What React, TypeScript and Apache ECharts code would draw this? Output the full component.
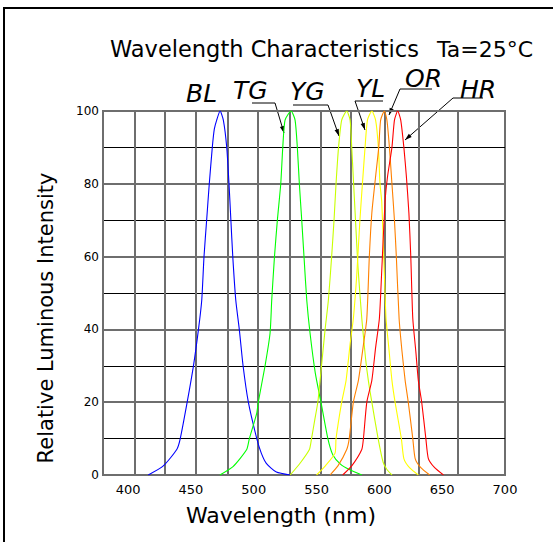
import React, { useEffect, useRef } from 'react';
import * as echarts from 'echarts';

// ---------- data ----------
const xTickLabels = [400, 450, 500, 550, 600, 650, 700];
const xGridLines = [405, 429, 454, 479, 503, 529, 553, 577, 604.5, 631.5, 662];
const yTickLabels = [0, 20, 40, 60, 80, 100];

const seriesNames = ['BL', 'TG', 'YG', 'YL', 'OR', 'HR'];
const seriesColors = ['#0000ff', '#00ff00', '#c8ff00', '#ffff00', '#ff8000', '#ff0000'];

const blData = [
  [416, 0], [428, 2.5], [438.7, 7], [441.5, 10], [447, 20], [452, 30], [456, 40], [458.6, 48],
  [460.4, 60], [462.5, 70], [464.6, 80], [467, 90], [468.6, 95], [470.5, 97.5], [473.2, 100],
  [475.8, 97.5], [478.5, 90], [480.3, 80], [481.8, 70], [483.3, 60], [485.7, 48], [488.5, 40],
  [491.5, 30], [495.7, 20], [502.4, 10], [506, 6], [510, 3.2], [518, 0.8], [529, 0],
];
const tgData = [
  [473, 0], [483.5, 2.3], [494.4, 7], [496.5, 10], [502.4, 17], [503.6, 20], [509, 30], [513, 39],
  [514.3, 48], [516.5, 60], [518.8, 70], [521.5, 80], [523.1, 90], [524.9, 97.5], [529.7, 100],
  [532.9, 97.5], [534.7, 90], [536.3, 80], [538.2, 70], [540, 60], [542.2, 48], [544.8, 39],
  [549, 28], [553.5, 20], [559, 10], [563, 5.5], [569, 3], [576, 1.5], [586, 0],
];
const ygData = [
  [529, 0], [537, 3.3], [544.3, 7], [546, 10], [548.5, 15], [551, 20], [552.8, 26], [556.8, 40],
  [559.4, 48], [562, 60], [563.9, 70], [565.5, 80], [567.5, 90], [570, 97.5], [574, 100],
  [576.7, 97.5], [578, 90], [579.5, 80], [581, 70], [583, 57], [586, 43], [589, 32], [591.2, 26],
  [594, 20], [599, 10], [603, 3.5], [606, 1.5], [610, 0],
];
const ylData = [
  [550, 0], [557, 2.5], [564.7, 6], [565.5, 10], [570, 20], [573.5, 26], [576.7, 36], [579.3, 43],
  [582, 55], [584.5, 70], [586.5, 80], [588.6, 90], [590.5, 97.5], [594, 100],
  [597, 97.5], [599.2, 90], [600.5, 80], [601.9, 75], [603.5, 60], [605.3, 43], [607.5, 35],
  [610, 26], [612.5, 20], [617.5, 10], [619.5, 4.5], [624, 2], [631, 0],
];
const orData = [
  [560.7, 0], [567, 2.5], [574, 7], [576, 10], [579.3, 20], [583.3, 26], [587, 35], [590, 43],
  [592, 60], [594, 72], [597, 82], [599.5, 90], [601, 97.5], [604, 100],
  [606, 97.5], [608, 90], [610, 80], [612, 70], [613.5, 60], [615.7, 43], [618, 34],
  [620.5, 26], [623, 20], [626.6, 10], [628.5, 4.5], [633, 2], [640, 0],
];
const hrData = [
  [570.8, 0], [578, 2.5], [586, 7], [587.3, 10], [590, 20], [594, 26], [597, 35], [600, 43],
  [602, 57], [604.5, 75], [606.5, 82], [610, 90], [612, 97.5], [614.6, 100],
  [617, 97.5], [619.5, 90], [621.5, 82], [623.5, 72], [625, 60], [626.6, 43], [629, 34],
  [631, 26], [633.7, 20], [637, 10], [639, 4.5], [644, 2], [651, 0],
];
const seriesData = [blData, tgData, ygData, ylData, orData, hrData];

// ---------- annotation layout (pixels) ----------
const labelPos: Record<string, [number, number]> = {
  BL: [186, 93], TG: [233, 90], YG: [290, 91.5], YL: [356, 88.5], OR: [405, 78.5], HR: [460, 89.5],
};
const leaders: number[][][] = [
  [[252, 103], [275, 103], [284, 133]],
  [[293, 105], [328, 105], [339, 136]],
  [[383, 101], [355, 101], [365, 130]],
  [[432, 89], [400, 89], [389, 115]],
  [[483, 98], [453, 98], [405, 140]],
];

const FONT = 'DejaVu Sans';

function arrowHead(pts: number[][]) {
  const tip = pts[pts.length - 1];
  const prev = pts[pts.length - 2];
  const dx = tip[0] - prev[0];
  const dy = tip[1] - prev[1];
  const len = Math.hypot(dx, dy);
  const ux = dx / len, uy = dy / len;
  const nx = -uy, ny = ux;
  const L = 7, W = 2.2;
  return [
    [tip[0], tip[1]],
    [tip[0] - ux * L + nx * W, tip[1] - uy * L + ny * W],
    [tip[0] - ux * L - nx * W, tip[1] - uy * L - ny * W],
  ];
}

export default function App() {
  const ref = useRef<HTMLDivElement>(null);

  useEffect(() => {
    if (!ref.current) return;
    const chart = echarts.init(ref.current, undefined, { renderer: 'svg' });

    const graphics: any[] = [
      {
        type: 'rect',
        shape: { x: 4, y: 8, width: 600, height: 600 },
        style: { fill: 'none', stroke: '#000', lineWidth: 2 },
        silent: true,
      },
      {
        type: 'text', x: 110, y: 49,
        style: { text: 'Wavelength Characteristics', font: `22.5px "${FONT}"`, fill: '#000', textAlign: 'left', textVerticalAlign: 'middle' },
      },
      {
        type: 'text', x: 437, y: 49,
        style: { text: 'Ta=25°C', font: `22px "${FONT}"`, fill: '#000', textAlign: 'left', textVerticalAlign: 'middle' },
      },
      {
        type: 'text', x: 46, y: 318, rotation: Math.PI / 2,
        style: { text: 'Relative Luminous Intensity', font: `21px "${FONT}"`, fill: '#000', textAlign: 'center', textVerticalAlign: 'middle' },
      },
      {
        type: 'text', x: 281, y: 515,
        style: { text: 'Wavelength (nm)', font: `22px "${FONT}"`, fill: '#000', textAlign: 'center', textVerticalAlign: 'middle' },
      },
    ];
    seriesNames.forEach((n) => {
      const p = labelPos[n];
      graphics.push({
        type: 'text', x: p[0], y: p[1],
        style: { text: n, font: `italic 200 25px "${FONT}"`, fill: '#000', textAlign: 'left', textVerticalAlign: 'middle' },
      });
    });
    leaders.forEach((pts) => {
      graphics.push({ type: 'polyline', shape: { points: pts }, style: { stroke: '#000', lineWidth: 1, fill: 'none' } });
      graphics.push({ type: 'polygon', shape: { points: arrowHead(pts) }, style: { fill: '#000' } });
    });

    chart.setOption({
      animation: false,
      backgroundColor: '#fff',
      grid: {
        left: 103, top: 111, width: 402, height: 364,
        show: true, borderColor: '#6e6e6e', borderWidth: 2, backgroundColor: 'transparent',
      },
      xAxis: {
        type: 'value', min: 380, max: 700,
        axisLine: { show: true, lineStyle: { color: '#6e6e6e', width: 2 } },
        axisTick: { show: false, customValues: xGridLines },
        axisLabel: { customValues: xTickLabels, fontFamily: FONT, fontSize: 13, color: '#000', margin: 8 },
        splitLine: { show: true, lineStyle: { color: '#6e6e6e', width: 2 } },
      },
      yAxis: {
        type: 'value', min: 0, max: 100, interval: 20,
        axisLine: { show: true, lineStyle: { color: '#6e6e6e', width: 2 } },
        axisTick: { show: false },
        axisLabel: { customValues: yTickLabels, fontFamily: FONT, fontSize: 12, color: '#000', margin: 4 },
        splitLine: { show: true, lineStyle: { color: '#6e6e6e', width: 2 } },
        minorTick: { show: false, splitNumber: 2 },
        minorSplitLine: { show: true, lineStyle: { color: '#000', width: 1 } },
      },
      series: seriesNames.map((n, i) => ({
        name: n,
        type: 'line',
        data: seriesData[i],
        showSymbol: false,
        smooth: 0.2,
        lineStyle: { color: seriesColors[i], width: 1.1 },
        z: 5,
      })),
      graphic: graphics,
    });

    return () => chart.dispose();
  }, []);

  return (
    <div
      ref={ref}
      style={{ position: 'fixed', left: 0, top: 0, width: 553, height: 542 }}
    />
  );
}
